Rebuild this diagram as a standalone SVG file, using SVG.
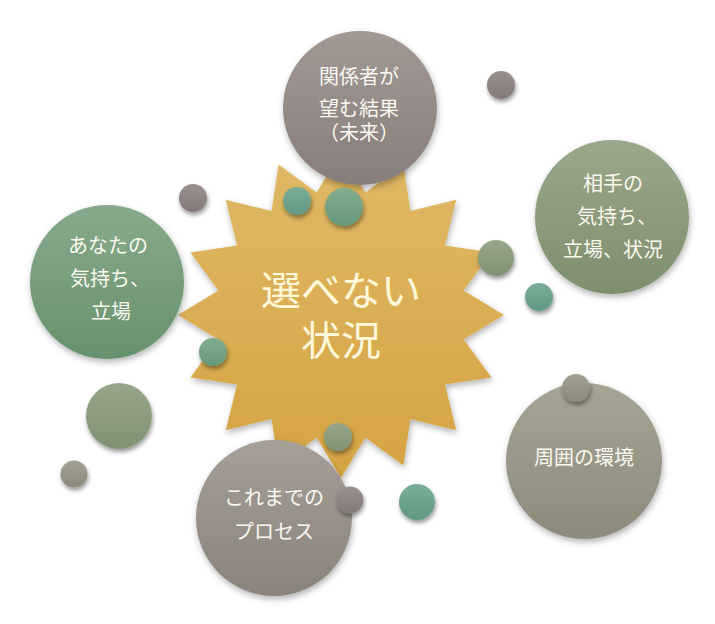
<svg xmlns="http://www.w3.org/2000/svg" width="715" height="624" viewBox="0 0 715 624">
<defs>
<filter id="sh" x="-30%" y="-30%" width="160%" height="170%">
<feDropShadow dx="1" dy="3" stdDeviation="3" flood-color="#000" flood-opacity="0.3"/>
</filter>
<filter id="shs" x="-50%" y="-50%" width="200%" height="220%">
<feDropShadow dx="1" dy="3" stdDeviation="2" flood-color="#000" flood-opacity="0.4"/>
</filter>
<linearGradient id="gStar" x1="0" y1="0" x2="0" y2="1"><stop offset="0" stop-color="#E0B965"/><stop offset="1" stop-color="#D4A342"/></linearGradient>
<linearGradient id="gTop" x1="0" y1="0" x2="0" y2="1"><stop offset="0" stop-color="#A29894"/><stop offset="1" stop-color="#877D7A"/></linearGradient>
<linearGradient id="gRight" x1="0" y1="0" x2="0" y2="1"><stop offset="0" stop-color="#9AA78B"/><stop offset="1" stop-color="#7D8F6E"/></linearGradient>
<linearGradient id="gLeft" x1="0" y1="0" x2="0" y2="1"><stop offset="0" stop-color="#88AA8C"/><stop offset="1" stop-color="#68916E"/></linearGradient>
<linearGradient id="gEnv" x1="0" y1="0" x2="0" y2="1"><stop offset="0" stop-color="#A6A595"/><stop offset="1" stop-color="#8C8B7B"/></linearGradient>
<linearGradient id="gProc" x1="0" y1="0" x2="0" y2="1"><stop offset="0" stop-color="#A59F97"/><stop offset="1" stop-color="#8A837B"/></linearGradient>
<linearGradient id="gGray" x1="0" y1="0" x2="0" y2="1"><stop offset="0" stop-color="#9A9090"/><stop offset="1" stop-color="#837978"/></linearGradient>
<linearGradient id="gTeal" x1="0" y1="0" x2="0" y2="1"><stop offset="0" stop-color="#79AD98"/><stop offset="1" stop-color="#629883"/></linearGradient>
<linearGradient id="gGreen" x1="0" y1="0" x2="0" y2="1"><stop offset="0" stop-color="#80AD8E"/><stop offset="1" stop-color="#68987A"/></linearGradient>
<linearGradient id="gSage" x1="0" y1="0" x2="0" y2="1"><stop offset="0" stop-color="#97A68A"/><stop offset="1" stop-color="#7F9274"/></linearGradient>
<linearGradient id="gOlive" x1="0" y1="0" x2="0" y2="1"><stop offset="0" stop-color="#A3A191"/><stop offset="1" stop-color="#8B8A7A"/></linearGradient>
</defs>
<style>
.t{font-family:"Noto Sans CJK JP","Noto Sans CJK SC",sans-serif;fill:#FBF8F0;text-anchor:middle;font-size:20px}
.ts{font-family:"Noto Sans CJK JP","Noto Sans CJK SC",sans-serif;fill:#FFF8DA;text-anchor:middle;font-size:40px}
.big{filter:url(#sh)}
.sm{filter:url(#shs)}
</style>
<rect width="715" height="624" fill="#FFFFFF"/>

<g id="star">
<polygon class="big" fill="url(#gStar)" points="341,152 365.39,192.4 403.38,164.41 410.45,211.07 456.26,199.74 444.93,245.55 491.59,252.62 463.6,290.61 504,315 463.6,339.39 491.59,377.38 444.93,384.45 456.26,430.26 410.45,418.93 403.38,465.59 365.39,437.6 341,478 316.61,437.6 278.62,465.59 271.55,418.93 225.74,430.26 237.07,384.45 190.41,377.38 218.4,339.39 178,315 218.4,290.61 190.41,252.62 237.07,245.55 225.74,199.74 271.55,211.07 278.62,164.41 316.61,192.4"/>
<text class="ts" x="341" y="305">選べない</text>
<text class="ts" x="341" y="355">状況</text>
</g>

<g id="node-top">
<circle class="big" cx="360" cy="108" r="77" fill="url(#gTop)"/>
<text class="t" x="359" y="84">関係者が</text>
<text class="t" x="359" y="116">望む結果</text>
<text class="t" x="359" y="140">（未来）</text>
</g>

<g id="node-right">
<circle class="big" cx="612" cy="217" r="77" fill="url(#gRight)"/>
<text class="t" x="613" y="191">相手の</text>
<text class="t" x="617" y="224">気持ち、</text>
<text class="t" x="613" y="257">立場、状況</text>
</g>

<g id="node-left">
<circle class="big" cx="107" cy="282" r="77" fill="url(#gLeft)"/>
<text class="t" x="108" y="253">あなたの</text>
<text class="t" x="110" y="286">気持ち、</text>
<text class="t" x="111" y="319">立場</text>
</g>

<g id="node-env">
<circle class="big" cx="584" cy="461" r="78" fill="url(#gEnv)"/>
<text class="t" x="584" y="465">周囲の環境</text>
</g>

<g id="node-process">
<circle class="big" cx="274" cy="518" r="78" fill="url(#gProc)"/>
<text class="t" x="274" y="505">これまでの</text>
<text class="t" x="274" y="539">プロセス</text>
</g>

<g id="dots">
<circle class="sm" cx="501" cy="85" r="14" fill="url(#gGray)"/>
<circle class="sm" cx="193" cy="198" r="14" fill="url(#gGray)"/>
<circle class="sm" cx="297" cy="201" r="14" fill="url(#gTeal)"/>
<circle class="sm" cx="344" cy="207" r="19" fill="url(#gGreen)"/>
<circle class="sm" cx="496" cy="258" r="18" fill="url(#gSage)"/>
<circle class="sm" cx="539" cy="297" r="14" fill="url(#gTeal)"/>
<circle class="sm" cx="213" cy="352" r="14" fill="url(#gGreen)"/>
<circle class="sm" cx="119" cy="416" r="33" fill="url(#gSage)"/>
<circle class="sm" cx="74" cy="474" r="13.5" fill="url(#gOlive)"/>
<circle class="sm" cx="338" cy="437" r="14" fill="url(#gSage)"/>
<circle class="sm" cx="350" cy="500" r="13.5" fill="url(#gGray)"/>
<circle class="sm" cx="417" cy="502" r="18" fill="url(#gTeal)"/>
<circle class="sm" cx="576" cy="388" r="14" fill="url(#gOlive)"/>
</g>

<g id="connectors"></g>
</svg>
